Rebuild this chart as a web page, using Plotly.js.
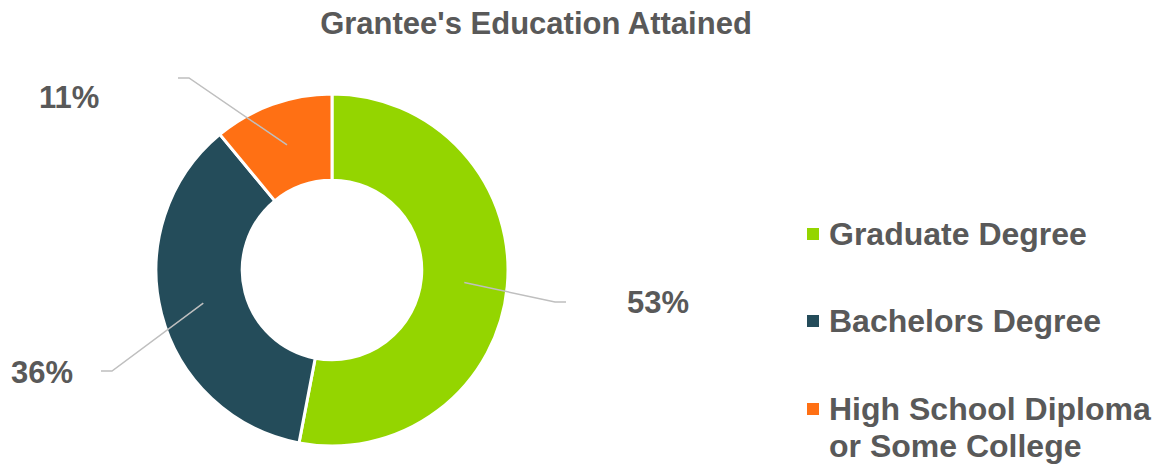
<!DOCTYPE html>
<html>
<head>
<meta charset="utf-8">
<script src="https://cdn.plot.ly/plotly-3.0.1.min.js"></script>
<style>html,body{margin:0;padding:0;background:#fff;}#chart{width:1163px;height:465px;}</style>
</head>
<body>
<div id="chart"></div>
<script>
// ---- data ----
const categories = ["Graduate Degree", "Bachelors Degree", "High School Diploma<br>or Some College"];
const values = [53, 36, 11];
const percentLabels = ["53%", "36%", "11%"];
const colors = ["#94D500", "#244C5A", "#FF7014"];
const chartTitle = "Grantee's Education Attained";

// ---- layout helpers ----
const W = 1163, H = 465;
const px = x => x / W;
const py = y => 1 - y / H;
const textColor = "#595959";
const fontFam = "Liberation Sans, Arial, sans-serif";

// donut geometry (pixels)
const cx = 332, cy = 270, R = 176, hole = 0.51;
const midR = R * (1 + hole) / 2;

// label anchor points (elbow of leader line) and label centres, per slice
const elbows = [[555, 302], [112, 371], [189, 78]];
const tailDir = [1, -1, -1];
const labelPos = [[658, 302], [42, 372], [69, 98]];
const legendY = [234, 321, 409];
const legendLineGap = 37;

const total = values.reduce((a, b) => a + b, 0);
const shapes = [];
const annotations = [];
let cum = 0;
values.forEach((v, i) => {
  const midFrac = (cum + v / 2) / total;
  cum += v;
  const ang = midFrac * 2 * Math.PI; // clockwise from top
  const sx = cx + midR * Math.sin(ang);
  const sy = cy - midR * Math.cos(ang);
  const [ex, ey] = elbows[i];
  const tx = ex + 11 * tailDir[i];
  shapes.push({
    type: "path", xref: "paper", yref: "paper",
    path: `M ${px(sx)} ${py(sy)} L ${px(ex)} ${py(ey)} L ${px(tx)} ${py(ey)}`,
    line: {color: "#BFBFBF", width: 1.5}
  });
  annotations.push({
    xref: "paper", yref: "paper", x: px(labelPos[i][0]), y: py(labelPos[i][1]),
    xanchor: "center", yanchor: "middle", showarrow: false,
    text: "<b>" + percentLabels[i] + "</b>",
    font: {family: fontFam, size: 31, color: textColor}
  });
  // legend square
  shapes.push({
    type: "rect", xref: "paper", yref: "paper",
    x0: px(807), x1: px(819), y0: py(legendY[i] - 6), y1: py(legendY[i] + 6),
    fillcolor: colors[i], line: {width: 0}
  });
  categories[i].split("<br>").forEach((line, k) => {
    annotations.push({
      xref: "paper", yref: "paper", x: px(827), y: py(legendY[i] + k * legendLineGap),
      xanchor: "left", yanchor: "middle", align: "left", showarrow: false,
      text: "<b>" + line + "</b>",
      font: {family: fontFam, size: 32, color: textColor}
    });
  });
});

const trace = {
  type: "pie",
  labels: categories.map(c => c.replace("<br>", " ")),
  values: values,
  hole: hole,
  sort: false,
  direction: "clockwise",
  rotation: 0,
  textinfo: "none",
  hoverinfo: "label+percent",
  marker: {colors: colors, line: {color: "#FFFFFF", width: 3}},
  domain: {x: [px(cx - R), px(cx + R)], y: [py(cy + R), py(cy - R)]},
  showlegend: false
};

const layout = {
  width: W, height: H,
  margin: {l: 0, r: 0, t: 0, b: 0},
  paper_bgcolor: "#FFFFFF",
  title: {
    text: "<b>" + chartTitle + "</b>",
    x: px(536), y: py(23), xanchor: "center", yanchor: "middle",
    xref: "container", yref: "container",
    font: {family: fontFam, size: 31, color: textColor}
  },
  shapes: shapes,
  annotations: annotations,
  showlegend: false
};

Plotly.newPlot("chart", [trace], layout, {displayModeBar: false, staticPlot: true});
</script>
</body>
</html>
